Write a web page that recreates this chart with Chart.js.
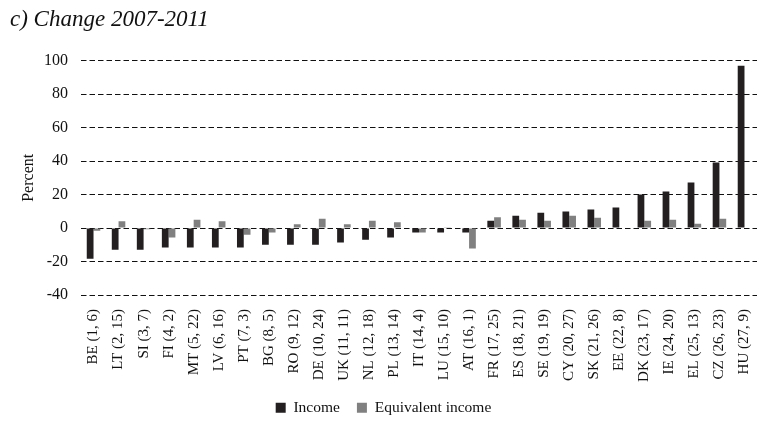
<!DOCTYPE html>
<html>
<head>
<meta charset="utf-8">
<script src="https://cdn.jsdelivr.net/npm/chart.js@4/dist/chart.umd.min.js"></script>
<style>
html,body{margin:0;padding:0;background:#fff;}
#wrap{width:775px;height:423px;position:relative;}
</style>
</head>
<body>
<div id="wrap"><canvas id="c"></canvas></div>
<script>
const categories = ["BE (1, 6)","LT (2, 15)","SI (3, 7)","FI (4, 2)","MT (5, 22)","LV (6, 16)","PT (7, 3)","BG (8, 5)","RO (9, 12)","DE (10, 24)","UK (11, 11)","NL (12, 18)","PL (13, 14)","IT (14, 4)","LU (15, 10)","AT (16, 1)","FR (17, 25)","ES (18, 21)","SE (19, 19)","CY (20, 27)","SK (21, 26)","EE (22, 8)","DK (23, 17)","IE (24, 20)","EL (25, 13)","CZ (26, 23)","HU (27, 9)"];
const income = [-18.3,-13,-13,-11.6,-11.6,-11.6,-11.6,-10,-10,-10,-8.6,-7,-5.6,-2.6,-2.6,-2.6,4.4,7.4,9.2,9.8,11,12.2,20,21.8,27.2,39.2,96.9];
const equivalentIncome = [-1.6,4,-0.8,-5.6,5,4,-4,-2.6,2.2,5.6,2.2,4.4,3.4,-2.6,0.5,-12.2,6.4,5,4.4,7.4,6.2,0.3,4.4,5,2.6,5.6,0.3];
const yTicks = [-40,-20,0,20,40,60,80,100];

const serif = "'Liberation Serif','Times New Roman',serif";
const legendFix = {
  id: 'legendFix',
  beforeInit(chart) {
    const lg = chart.legend;
    if (!lg) return;
    const fit = lg.fit;
    lg.fit = function () { fit.call(this); this.height = 40; };
  }
};
new Chart(document.getElementById('c'), {
  type: 'bar',
  data: {
    labels: categories,
    datasets: [
      {label: 'Income', data: income, backgroundColor: '#231f20', barPercentage: 1, categoryPercentage: 0.54},
      {label: 'Equivalent income', data: equivalentIncome, backgroundColor: '#808080', barPercentage: 1, categoryPercentage: 0.54}
    ]
  },
  plugins: [legendFix],
  options: {
    responsive: true,
    maintainAspectRatio: false,
    animation: false,
    devicePixelRatio: 1,
    layout: {padding: {left: 10, right: 18, top: 0, bottom: 0}},
    plugins: {
      title: {display: true, text: 'c) Change 2007-2011', align: 'start', color: '#111',
        font: {family: serif, size: 23, style: 'italic', weight: 'normal'}, padding: {top: 6, bottom: 27}},
      legend: {position: 'bottom', labels: {color: '#111', boxWidth: 10, boxHeight: 10, padding: 17,
        font: {family: serif, size: 15.5}}},
      tooltip: {enabled: false}
    },
    scales: {
      x: {
        grid: {display: false},
        border: {display: false},
        afterFit: (s) => { s.paddingLeft = 0; s.paddingRight = 0; s.height = 88; },
        ticks: {color: '#111', minRotation: 90, maxRotation: 90, autoSkip: false, padding: 6,
          font: {family: serif, size: 15}}
      },
      y: {
        min: -40, max: 100,
        afterBuildTicks: (ax) => { ax.ticks = yTicks.map(v => ({value: v})); },
        afterFit: (s) => { s.width = 71; s.paddingTop = 0; s.paddingBottom = 0; },
        grid: {color: '#111', lineWidth: 1, drawTicks: false},
        border: {display: false, dash: [5.5,3]},
        ticks: {color: '#111', padding: 13, font: {family: serif, size: 16}},
        title: {display: true, text: 'Percent', color: '#111', font: {family: serif, size: 16}, padding: {top: 9, bottom: 6}}
      }
    }
  }
});
</script>
</body>
</html>
